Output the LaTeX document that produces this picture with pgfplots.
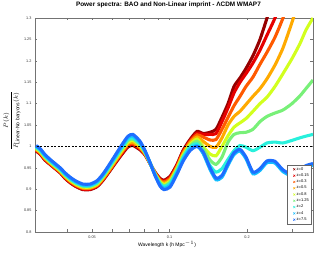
\documentclass[border=0pt]{standalone}
\usepackage{amsmath}
\usepackage{pgfplots}
\pgfplotsset{compat=1.18}
\usepackage{pgfplotstable}
\usepackage{fontspec}
\setmainfont{Liberation Sans}
\definecolor{c0}{RGB}{150,0,0}
\definecolor{c1}{RGB}{230,0,0}
\definecolor{c2}{RGB}{255,90,0}
\definecolor{c3}{RGB}{255,170,0}
\definecolor{c4}{RGB}{210,255,30}
\definecolor{c5}{RGB}{120,240,120}
\definecolor{c6}{RGB}{40,240,220}
\definecolor{c7}{RGB}{20,190,255}
\definecolor{c8}{RGB}{30,110,255}

\pgfplotstableread{
k      z0    z1    z2    z3    z4    z5    z6    z7    z8
0.0303 0.989 0.990 0.992 0.993 0.995 0.997 0.998 1.000 1.002
0.0314 0.982 0.983 0.985 0.986 0.988 0.990 0.991 0.993 0.995
0.0328 0.968 0.969 0.971 0.972 0.974 0.976 0.977 0.979 0.981
0.0343 0.958 0.959 0.960 0.962 0.963 0.965 0.966 0.968 0.970
0.0359 0.948 0.949 0.950 0.952 0.953 0.955 0.956 0.958 0.960
0.0376 0.938 0.939 0.940 0.942 0.943 0.945 0.946 0.948 0.950
0.0393 0.925 0.926 0.928 0.929 0.931 0.933 0.934 0.936 0.938
0.0411 0.915 0.916 0.918 0.919 0.921 0.923 0.924 0.926 0.928
0.0433 0.906 0.907 0.909 0.910 0.912 0.914 0.915 0.917 0.919
0.0461 0.899 0.900 0.902 0.903 0.905 0.907 0.908 0.910 0.912
0.0491 0.899 0.900 0.902 0.903 0.905 0.907 0.908 0.910 0.912
0.0523 0.906 0.907 0.909 0.910 0.912 0.914 0.916 0.918 0.920
0.0552 0.921 0.923 0.924 0.926 0.928 0.930 0.932 0.934 0.936
0.0587 0.943 0.945 0.946 0.948 0.951 0.953 0.955 0.958 0.960
0.0625 0.966 0.968 0.970 0.972 0.975 0.978 0.980 0.983 0.986
0.0660 0.985 0.987 0.990 0.992 0.995 0.998 1.001 1.005 1.008
0.0690 0.999 1.002 1.004 1.007 1.010 1.014 1.017 1.021 1.024
0.0721 1.002 1.005 1.007 1.010 1.014 1.017 1.020 1.024 1.028
0.0768 0.992 0.994 0.996 0.998 1.001 1.004 1.006 1.009 1.012
0.0803 0.980 0.981 0.982 0.983 0.985 0.986 0.987 0.989 0.990
0.0840 0.960 0.960 0.960 0.961 0.961 0.961 0.961 0.962 0.962
0.0878 0.940 0.939 0.938 0.937 0.936 0.935 0.934 0.933 0.932
0.0919 0.925 0.923 0.921 0.919 0.917 0.915 0.912 0.910 0.907
0.0952 0.921 0.919 0.917 0.914 0.911 0.908 0.906 0.902 0.899
0.1005 0.930 0.928 0.925 0.922 0.919 0.916 0.913 0.909 0.905
0.1069 0.958 0.956 0.953 0.951 0.948 0.945 0.942 0.938 0.935
0.1128 0.990 0.988 0.985 0.982 0.979 0.976 0.973 0.969 0.965
0.1201 1.016 1.013 1.011 1.008 1.004 1.001 0.998 0.994 0.990
0.1279 1.035 1.031 1.027 1.022 1.017 1.012 1.006 1.001 1.000
0.1349 1.030 1.028 1.022 1.012 1.000 0.995 0.985 0.984 0.988
0.1437 1.033 1.028 1.015 1.000 0.982 0.968 0.955 0.946 0.950
0.1516 1.040 1.030 1.016 0.998 0.978 0.958 0.940 0.922 0.926
0.1599 1.068 1.058 1.040 1.020 1.000 0.975 0.948 0.928 0.932
0.1688 1.100 1.090 1.068 1.050 1.025 1.010 0.970 0.956 0.960
0.1781 1.140 1.125 1.095 1.070 1.045 1.028 0.990 0.981 0.985
0.1879 1.160 1.150 1.117 1.082 1.055 1.032 1.002 0.989 0.993
0.1982 1.182 1.170 1.140 1.098 1.065 1.033 0.998 0.971 0.975
0.2110 1.212 1.195 1.162 1.117 1.082 1.040 0.990 0.936 0.940
0.2247 1.250 1.225 1.192 1.135 1.100 1.058 0.998 0.944 0.948
0.2392 1.300 1.260 1.220 1.158 1.115 1.070 1.008 0.962 0.966
0.2569 1.360 1.300 1.255 1.190 1.140 1.078 1.010 0.961 0.965
0.2760 1.420 1.350 1.300 1.230 1.170 1.085 1.008 0.941 0.945
0.2991 1.480 1.410 1.360 1.290 1.205 1.100 1.014 0.931 0.935
0.3212 1.540 1.470 1.420 1.350 1.240 1.118 1.020 0.941 0.945
0.3390 1.600 1.520 1.470 1.400 1.272 1.135 1.024 0.951 0.955
0.3609 1.660 1.580 1.530 1.460 1.300 1.155 1.028 0.956 0.960
}\data

\begin{document}
\begin{tikzpicture}
\useasboundingbox (-35pt,-21pt) rectangle (282pt,232pt);
\begin{axis}[at={(0pt,0pt)}, anchor=south west,
  scale only axis, width=278pt, height=214pt,
  xmode=log, xmin=0.03, xmax=0.361, ymin=0.8, ymax=1.3,
  xtick={0.04,0.05,0.06,0.07,0.08,0.09,0.1,0.2,0.3},
  xticklabels={,0.05,,,,,0.1,0.2,},
  ytick={0.8,0.85,0.9,0.95,1,1.05,1.1,1.15,1.2,1.25,1.3},
  yticklabels={0.8,0.85,0.9,0.95,1,1.05,1.1,1.15,1.2,1.25,1.3},
  minor xtick={},
  tick align=inside, tick pos=both,
  major tick length=2.5pt,
  axis line style={black!55, line width=0.5pt},
  tick style={black!55, line width=0.4pt},
  tick label style={font=\fontsize{3.8}{4}\selectfont, text=black!80},
  /pgf/number format/assume math mode=true,
  title={\textbf{Power spectra: BAO and Non-Linear imprint - ΛCDM WMAP7}},
  title style={font=\fontsize{6.4}{7}\selectfont, at={(0.48,1)}, anchor=south, yshift=1pt},
  xlabel={Wavelength k (h Mpc$^{-1}$)},
  xlabel style={font=\fontsize{5}{6}\selectfont, at={(axis description cs:0.475,-0.06)}, anchor=center},
  ylabel={$\dfrac{P(k)}{P_{\mathrm{Linear\text{-}No\ baryons}}(k)}$},
  ylabel style={font=\fontsize{6}{7}\selectfont, at={(axis description cs:-0.083,0.52)}, anchor=center},
  legend style={at={(0.993,0.313)}, anchor=north east, draw=black!60, line width=0.4pt,
    font=\fontsize{4}{4.5}\selectfont, inner sep=1pt, row sep=0pt,
    nodes={inner sep=1pt}},
  legend cell align=left,
  legend image code/.code={\draw[draw=none, fill=none] (0cm,0cm) -- (0.27cm,0cm); \draw[#1, line width=0.45pt, mark=x, mark size=1.4pt] plot coordinates {(0.22cm,0cm)};},
  every axis plot/.append style={line width=3.1pt, smooth, tension=0.4},
]
\addplot[c0] table[x=k,y=z0]{\data};
\addlegendentry{z=0}
\addplot[c1] table[x=k,y=z1]{\data};
\addlegendentry{z=0.15}
\addplot[c2] table[x=k,y=z2]{\data};
\addlegendentry{z=0.3}
\addplot[c3] table[x=k,y=z3]{\data};
\addlegendentry{z=0.5}
\addplot[c4] table[x=k,y=z4]{\data};
\addlegendentry{z=0.8}
\addplot[c5] table[x=k,y=z5]{\data};
\addlegendentry{z=1.25}
\addplot[c6] table[x=k,y=z6]{\data};
\addlegendentry{z=2}
\addplot[c7] table[x=k,y=z7]{\data};
\addlegendentry{z=4}
\addplot[c8] table[x=k,y=z8]{\data};
\addlegendentry{z=7.5}
\addplot[black, line width=0.9pt, dash pattern=on 2pt off 1.5pt, sharp plot, forget plot] coordinates {(0.0305,1) (0.361,1)};
\end{axis}
\end{tikzpicture}
\end{document}
